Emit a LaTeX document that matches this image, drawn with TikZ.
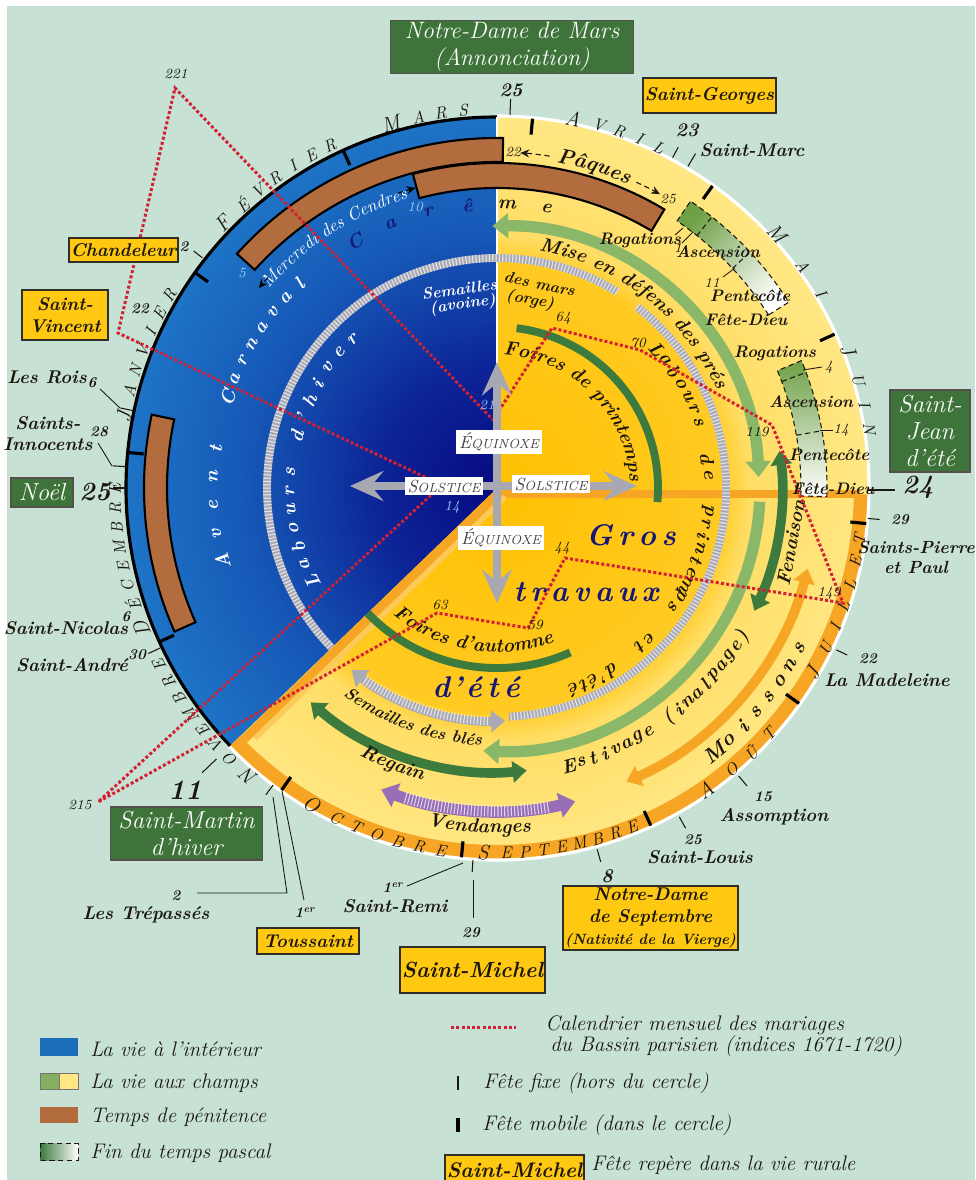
\documentclass[tikz,border=0pt]{standalone}
\usepackage{fontspec}
\usetikzlibrary{arrows.meta,decorations.text,calc}

\definecolor{bg}{RGB}{199,226,212}
\definecolor{boxgreen}{RGB}{62,116,58}
\definecolor{boxyellow}{RGB}{255,201,18}
\definecolor{bandbrown}{RGB}{178,108,62}
\definecolor{dgreen}{RGB}{60,122,62}
\definecolor{lgreen}{RGB}{138,184,104}
\definecolor{pgreen}{RGB}{110,160,70}
\definecolor{orng}{RGB}{246,166,36}
\definecolor{purp}{RGB}{152,110,182}
\definecolor{grayarc}{RGB}{170,170,182}
\definecolor{grayarrow}{RGB}{168,168,178}
\definecolor{navy}{RGB}{22,22,120}
\definecolor{redm}{RGB}{212,32,52}
\definecolor{ink}{RGB}{28,22,16}
\definecolor{lblue}{RGB}{150,205,245}
\definecolor{blue0}{RGB}{8,10,130}
\definecolor{blue1}{RGB}{12,36,150}
\definecolor{blue2}{RGB}{22,88,182}
\definecolor{blue3}{RGB}{30,116,198}
\definecolor{gold0}{RGB}{255,192,0}
\definecolor{gold1}{RGB}{255,202,34}
\definecolor{pale1}{RGB}{255,222,102}
\definecolor{pale2}{RGB}{255,231,132}
\definecolor{legblue}{RGB}{26,110,184}

% the path's bounding box maps onto [-25bp,25bp]
\pgfdeclareradialshading{ydisk}{\pgfpoint{0bp}{0bp}}{color(0bp)=(gold0); color(15bp)=(gold1); color(17bp)=(pale1); color(25bp)=(pale2); color(50bp)=(pale2)}
\pgfdeclareradialshading{bdisk}{\pgfpoint{0bp}{0bp}}{color(0bp)=(blue0); color(8bp)=(blue1); color(17bp)=(blue2); color(25bp)=(blue3); color(50bp)=(blue3)}

\newcommand\fLab{\fontsize{10.5}{12}\selectfont\bfseries\itshape}
\newcommand\fSm{\fontsize{8.5}{10}\selectfont\bfseries\itshape}
\newcommand\fVal{\fontsize{8}{9}\selectfont\itshape}
\newcommand\fArc{\fontsize{11}{13}\selectfont\bfseries\itshape}
\newcommand\fArcS{\fontsize{9.5}{11}\selectfont\bfseries\itshape}
\newcommand\fSem{\fontsize{9}{10}\selectfont\bfseries\itshape}
\newcommand\fMerc{\fontsize{10}{12}\selectfont\itshape}
\newcommand\fPaq{\fontsize{12}{14}\selectfont\bfseries\itshape}
\newcommand\fMoi{\fontsize{12}{14}\selectfont\bfseries\itshape}
\newcommand\fMid{\fontsize{11}{12}\selectfont\bfseries\itshape}
\newcommand\fBig{\fontsize{15}{17}\selectfont\bfseries\itshape}
\newcommand\fGros{\fontsize{17}{19}\selectfont\bfseries\itshape}
\newcommand\fMonB{\fontsize{12}{13}\selectfont\itshape}
\newcommand\fMonS{\fontsize{9.5}{11}\selectfont\itshape}
\newcommand\fLeg{\fontsize{12}{14}\selectfont\itshape}
\newcommand\fSun{\fontsize{10}{11}\selectfont\itshape}
\newcommand\fSunS{\fontsize{7.5}{9}\selectfont\itshape}

\newcommand\arcword[6]{\foreach \lettr [count=\kk from 0] in {#6}{\pgfmathsetmacro\angA{#2+\kk*(#3)}\node[#5,rotate=\angA+(#4)] at (\angA:#1) {\lettr};}}
\newcommand\monthname[6]{\arcword{#1}{#2}{#3}{#4}{mon,font=\fMonB}{#5}\pgfmathsetmacro\angB{#2+1.25*(#3)}\arcword{#1}{\angB}{#3}{#4}{mon,font=\fMonS}{#6}}
\newcommand\ringsector[5]{\path[#5] (#1:#3) arc[start angle=#1,end angle=#2,radius=#3] -- (#2:#4) arc[start angle=#2,end angle=#1,radius=#4] -- cycle;}
\newcommand\hatcharc[8]{\draw[#4,line width=#5,#6] (#1:#3) arc[start angle=#1,end angle=#2,radius=#3];
 \draw[white,line width=#5,dash pattern=on 0.6pt off 1.3pt,opacity=0.7] (#7:#3) arc[start angle=#7,end angle=#8,radius=#3];}
\newcommand\arctext[6]{\path[decorate,decoration={text along path,text align=center,text color=#5,text={|#6|#4}}] (#1:#3) arc[start angle=#1,end angle=#2,radius=#3];}

\begin{document}
\begin{tikzpicture}[x=0.02cm,y=0.02cm,
 lab/.style={font=\fLab,text=ink,inner sep=0.5pt},
 sm/.style={font=\fSm,text=ink,inner sep=0.5pt},
 val/.style={font=\fVal,text=ink,inner sep=0.5pt},
 mon/.style={text=ink,inner sep=0pt},
 pent/.style={font=\fArcS,text=ink,inner sep=0.5pt},
 ybx/.style={draw=ink!90,line width=0.9pt,fill=boxyellow,text=ink,font=\fontsize{10.5}{12.5}\selectfont\bfseries\itshape,inner sep=1pt,align=center},
 gbx/.style={draw=ink!75,line width=0.9pt,fill=boxgreen,text=white,font=\fontsize{14}{15.5}\selectfont\itshape,inner sep=1pt,align=center},
 tickf/.style={ink,line width=0.6pt},
 tickm/.style={black,line width=1.8pt},
 lead/.style={ink,line width=0.5pt},
 mar/.style={redm,line width=1.7pt,dash pattern=on 1.7pt off 1.3pt},
 sunbox/.style={fill=white,inner sep=1.5pt,text=black!75},
 leg/.style={font=\fLeg,text=ink,inner sep=0pt,anchor=west},
 dblG/.style={>={Triangle[width=12pt,length=8pt]},<->},
 dblP/.style={>={Triangle[width=14pt,length=9pt]},<->},
 dblL/.style={>={Triangle[width=14pt,length=9pt]},<->},
 endL/.style={>={Triangle[width=14pt,length=9pt]},->},
 dblD/.style={>={Triangle[width=12pt,length=8pt]},<->},
 gA/.style={-{Stealth[length=19pt,width=17pt,inset=7pt]}},
 dashA/.style={densely dashed,line width=0.6pt,-{Stealth[length=5pt,width=4.5pt]}},
]
\useasboundingbox (0,0) rectangle (975,-1180);
\fill[white] (0,0) rectangle (975,-1180);
\fill[bg] (7,-6) rectangle (975,-1180);
\coordinate (C) at (497,-488);

\begin{scope}[shift={(497,-488)}]
 % discs
 \shade[shading=ydisk] (0,0) circle (372);
 \begin{scope}
  \clip (0,0) -- (90:376) arc[start angle=90,end angle=224,radius=376] -- cycle;
  \shade[shading=bdisk] (0,0) circle (372);
 \end{scope}
 % summer sector border
 \draw[orng,line width=8pt] (-136:364) arc[start angle=-136,end angle=-1,radius=364];
 \draw[orng,line width=4.5pt] (0,-6) -- (363,-6);
 \draw[orng,line width=5pt] ($(-46:5)$) -- ($(-46:5)+(-136:362)$);
 \draw[orng!45!pale2,line width=3pt] ($(-46:12)$) -- ($(-46:12)+(-136:348)$);
 % outlines
 \draw[white,line width=1.8pt] (-136:372) arc[start angle=-136,end angle=90,radius=372];
 \draw[black,line width=1.8pt] (90:371) arc[start angle=90,end angle=224,radius=371];
 \draw[white,line width=1pt] (0,0) -- (90:371);
 % penance bands
 \ringsector{89}{138}{326}{350}{fill=bandbrown,draw=black,line width=1.2pt}
 \ringsector{59}{105}{300}{325}{fill=bandbrown,draw=black,line width=1.2pt}
 \ringsector{168}{204}{330}{353}{fill=bandbrown,draw=black,line width=1.2pt}
 % fin du temps pascal
 \ringsector{32.5}{56}{322}{346}{top color=pgreen,bottom color=white,shading angle=45}
 \ringsector{32.5}{56}{322}{346}{draw=ink,densely dashed,line width=0.6pt}
 \draw[ink,densely dashed,line width=0.6pt] (51.6:322) -- (51.6:346) (43:322) -- (43:346);
 \ringsector{-1.5}{22.7}{304}{330}{top color=pgreen,bottom color=white}
 \ringsector{-1.5}{22.7}{304}{330}{draw=ink,densely dashed,line width=0.6pt}
 \draw[ink,densely dashed,line width=0.6pt] (20.5:304) -- (20.5:330) (10:304) -- (10:330);
 % activity arcs
 \hatcharc{58.5}{224}{230}{grayarc}{4.5pt}{}{58.5}{224}
 \hatcharc{52.3}{-87}{229}{grayarc}{4.5pt}{}{52.3}{-87}
 \hatcharc{-128.6}{-88}{233}{grayarc}{5pt}{dblG}{-124.5}{-92}
 \hatcharc{-111}{-76}{323}{purp}{6.5pt}{dblP}{-106.5}{-80.5}
 \draw[lgreen,line width=6.5pt,dblL] (2.4:262) arc[start angle=2.4,end angle=91,radius=262];
 \draw[lgreen,line width=6.5pt,endL] (-3:263) arc[start angle=-3,end angle=-93,radius=263];
 \draw[dgreen,line width=4.5pt] (83:161) arc[start angle=83,end angle=-5,radius=161];
 \draw[dgreen,line width=4.5pt] (-136:180) arc[start angle=-136,end angle=-66,radius=180];
 \draw[dgreen,line width=5.5pt,dblD] (-131:284) arc[start angle=-131,end angle=-84,radius=284];
 \draw[dgreen,line width=5.5pt,dblD] (7.5:285) arc[start angle=7.5,end angle=-25.5,radius=285];
 \draw[orng,line width=5.5pt,dblD] (-14.6:321) arc[start angle=-14.6,end angle=-66.2,radius=321];
 % month ticks
 \foreach \angC in {84.5,54.5,24.5,-5.5,-35.5,-65.5,-95.5,-125.5,-155.5,174.5,144.5,114.5}
   \draw[tickm] (\angC:355) -- (\angC:371);
 \foreach \angC/\ra/\rb in {88/373/389,62/374/386,59.3/374/389,-4.7/372/384,-25.5/376/388,-50/376/389,-61/376/389,-74.5/375/388,-93.7/373/385,-127/372/384,205.4/372/386,180/371/384,176.7/371/385,168/372/385,142/374/385}
   \draw[tickf] (\angC:\ra) -- (\angC:\rb);
 \draw[tickf] (-136:390) -- (-136:410);
 % texts along arcs
 \arctext{84}{20}{241}{Mise en défens des prés}{ink}{\fArc}
 \arctext{97}{-7}{133}{Foires de printemps}{ink}{\fArc}
 \arctext{-142}{-57}{164}{Foires d'automne}{ink}{\fArc}
 \arctext{-132}{-88}{258}{Semailles des blés}{ink}{\fArcS}
 \arctext{-124}{-97.6}{301}{Regain}{ink}{\fArc}
 \arctext{-105}{-81}{345}{Vendanges}{ink}{\fArc}
 \arctext{142}{104}{303}{Mercredi des Cendres}{white}{\fMerc}
 \arctext{82}{64.4}{331}{Pâques}{ink}{\fPaq}
 \draw[ink,dashA] (81:336) arc[start angle=81,end angle=86,radius=336];
 \draw[ink,dashA] (65.5:336) arc[start angle=65.5,end angle=61,radius=336];
 \draw[black,dashA] (137.4:311) arc[start angle=137.4,end angle=140,radius=311];
 \draw[black,dashA] (108.6:311) arc[start angle=108.6,end angle=105.2,radius=311];
 % spaced words
 \arcword{207}{207}{-5.2}{-90}{mon,text=white,font=\fArc}{L,a,b,o,u,r,s,{},d,',h,i,v,e,r}
 \arcword{284}{195}{-5.75}{-90}{mon,text=white,font=\fArc}{A,v,e,n,t}
 \arcword{284}{161.4}{-3.9}{-90}{mon,text=white,font=\fArc}{C,a,r,n,a,v,a,l}
 \arcword{284}{120}{-8}{-90}{mon,text=navy,font=\fArc}{C,a,r,ê}
 \arcword{284}{88}{-8}{-90}{mon,text=ink,font=\fArc}{m,e}
 \arcword{212}{41}{-3.8}{-90}{mon,font=\fArc}{L,a,b,o,u,r,s}
 \arcword{212}{8.2}{-4.6}{-90}{mon,font=\fArc}{d,e}
 \arcword{212}{-6}{-3.45}{-90}{mon,font=\fArc}{p,r,i,n,t,e,m,p,s}
 \arcword{214}{-44.5}{-3.5}{-90}{mon,font=\fArc}{e,t}
 \arcword{216}{-57.5}{-2.85}{-90}{mon,font=\fArc}{d,',é,t,é}
 \arcword{287}{-75.5}{2.47}{90}{mon,font=\fArc}{E,s,t,i,v,a,g,e,{},{(},i,n,a,l,p,a,g,e,{)}}
 \arcword{343}{-50.6}{3.23}{90}{mon,font=\fMoi}{M,o,i,s,s,o,n,s}
 \node[font=\fArc,text=ink,rotate=79.5,inner sep=0pt] (fenaison) at (-10.5:299) {Fenaison};
 % months
 \monthname{381}{229.4}{-3}{-90}{N}{O,V,E,M,B,R,E}
 \monthname{382}{201.6}{-2.97}{-90}{D}{É,C,E,M,B,R,E}
 \monthname{380}{169.2}{-3.15}{-90}{J}{A,N,V,I,E,R}
 \monthname{381}{136}{-3.2}{-90}{F}{É,V,R,I,E,R}
 \monthname{379}{106.3}{-3.43}{-90}{M}{A,R,S}
 \monthname{377}{78.4}{-3.25}{-90}{A}{V,R,I,L}
 \monthname{378}{42.3}{-5}{-90}{M}{A,I}
 \monthname{377}{21.5}{-3.83}{-90}{J}{U,I,N}
 \monthname{366}{-30.5}{3.58}{90}{J}{U,I,L,L,E,T}
 \monthname{367}{-55.4}{4.07}{90}{A}{O,Û,T}
 \monthname{365}{-92.2}{2.9}{90}{S}{E,P,T,E,M,B,R,E}
 \monthname{367}{-120.4}{3.45}{90}{O}{C,T,O,B,R,E}
\end{scope}

% marriage calendar
\coordinate (vMar) at (493,-420);
\coordinate (vApr) at (552,-328);
\coordinate (vMay) at (640,-350);
\coordinate (vJun) at (772,-425);
\coordinate (vJul) at (843,-603);
\coordinate (vAug) at (565,-558);
\coordinate (vSep) at (528,-628);
\coordinate (vOct) at (437,-613);
\coordinate (vNov) at (98,-802);
\coordinate (vDec) at (442,-485);
\coordinate (vJan) at (118,-333);
\coordinate (vFeb) at (175,-88);
\draw[mar] (vMar) -- (vApr) -- (vMay) -- (vJun) -- (vJul) -- (vAug) -- (vSep) -- (vOct) -- (vNov) -- (vDec) -- (vJan) -- (vFeb) -- cycle;
\node[val] (i221) at (176,-74) {221};
\node[val,text=lblue] (i21) at (487,-405) {21};
\node[val,text=lblue] (i14) at (452,-507) {14};
\node[val] (i64) at (563,-318) {64};
\node[val] (i70) at (638,-343) {70};
\node[val] (i119) at (757,-432) {119};
\node[val] (i149) at (829,-593) {149};
\node[val] (i44) at (562,-548) {44};
\node[val] (i59) at (535,-625) {59};
\node[val] (i63) at (440,-605) {63};
\node[val] (i215) at (80,-805) {215};

% seasons cross
\begin{scope}[shift={(497,-488)}]
 \draw[grayarrow,line width=5pt,gA] (0,0) -- (0,126);
 \draw[grayarrow,line width=5pt,gA] (0,0) -- (0,-115);
 \draw[grayarrow,line width=5pt,gA] (0,2) -- (-147,2);
 \draw[grayarrow,line width=5pt,gA] (0,2) -- (140,2);
\end{scope}
\node[sunbox] (eq1) at (499,-442) {\fSun É\fSunS QUINOXE};
\node[sunbox] (eq2) at (501,-538) {\fSun É\fSunS QUINOXE};
\node[sunbox] (so1) at (444,-486) {\fSun S\fSunS OLSTICE};
\node[sunbox] (so2) at (551,-484) {\fSun S\fSunS OLSTICE};

% big words
\node[font=\fGros,text=navy] (gros) at (631,-535) {G\kern3pt r\kern3pt o\kern3pt s};
\node[font=\fGros,text=navy] (travaux) at (586,-592) {t\kern3pt r\kern3pt a\kern3pt v\kern3pt a\kern3pt u\kern3pt x};
\node[font=\fGros,text=navy] (dete) at (476,-687) {d\kern1pt'\kern2pt é\kern3pt t\kern3pt é};

\node[font=\fSem,text=white,rotate=8,anchor=east,inner sep=0pt] (semav) at (497,-284) {Semailles};
\node[font=\fSem,text=white,rotate=8,anchor=east,inner sep=0pt] (semav2) at (496,-300) {(avoine)};
\node[font=\fSem,text=ink,rotate=-12,anchor=west,inner sep=0pt] (desmars) at (504,-276) {des mars};
\node[font=\fSem,text=ink,rotate=-10,anchor=west,inner sep=0pt] (desmars2) at (506,-296) {(orge)};

% ring numbers
\node[val,text=lblue] (n5) at (242,-273) {5};
\node[val,text=lblue] (n10) at (415,-207) {10};
\node[val] (n22p) at (513,-152) {22};
\node[val] (n25p) at (668,-199) {25};

% pentecost labels
\node[pent] (rog1) at (640,-240) {Rogations};
\node[val] (d1) at (678,-248) {1};
\node[pent] (asc1) at (718,-252) {Ascension};
\node[val] (d11) at (712,-283) {11};
\node[pent] (pen1) at (750,-296) {Pentecôte};
\node[pent] (fd1) at (746,-320) {Fête-Dieu};
\node[pent] (rog2) at (775,-353) {Rogations};
\node[val] (d4) at (829,-367) {4};
\node[pent] (asc2) at (811,-402) {Ascension};
\node[val] (d14) at (841,-430) {14};
\node[pent] (pen2) at (829,-455) {Pentecôte};
\node[pent] (fd2) at (833,-489) {Fête-Dieu};
\draw[lead] (675,-235) -- (683,-228);
\draw[lead] (682,-243) -- (693,-232);
\draw[lead] (723,-277) -- (735,-268);
\draw[lead] (803,-370) -- (822,-367);
\draw[lead] (820,-430) -- (833,-430);

% top and right feasts
\node[gbx,font=\fontsize{13.5}{15.5}\selectfont\itshape,minimum width=244*0.5669pt,minimum height=52*0.5669pt] (ndmars) at (512,-47) {Notre-Dame de Mars\\(Annonciation)};
\node[font=\fMid,text=ink] (n25t) at (511,-90) {25};
\node[ybx,minimum width=125*0.5669pt,minimum height=35*0.5669pt] (stgeorges) at (709.5,-95.5) {Saint-Georges};
\node[font=\fMid,text=ink] (n23) at (687,-130) {23};
\node[lab] (stmarc) at (752,-150) {Saint-Marc};
\node[gbx,minimum width=80*0.5669pt,minimum height=82*0.5669pt] (stjean) at (930,-431) {Saint-\\Jean\\d'été};
\draw[lead,line width=0.7pt] (868,-490) -- (895,-490);
\node[font=\fBig,text=ink] (n24) at (918,-487) {24};
\node[sm] (n29a) at (900,-520) {29};
\node[lab,font=\fontsize{10}{11.5}\selectfont\bfseries\itshape,align=center] (stpierre) at (916,-557) {Saints-Pierre\\et Paul};
\node[sm] (n22m) at (868,-659) {22};
\node[lab] (madeleine) at (887,-680) {La Madeleine};
\node[sm] (n15) at (763,-797) {15};
\node[lab] (assomption) at (774,-817) {Assomption};
\node[sm] (n25l) at (693,-840) {25};
\node[lab] (stlouis) at (700,-857) {Saint-Louis};
\node[font=\fMid,text=ink] (n8) at (607,-876) {8};
\node[ybx,minimum width=165*0.5669pt,minimum height=64*0.5669pt] (ndsept) at (650.5,-918) {Notre-Dame\\de Septembre\\{\fontsize{8.5}{10}\selectfont(Nativité de la Vierge)}};
\draw[lead] (473,-880) -- (473,-918);
\node[sm] (n29m) at (471,-933) {29};
\node[ybx,font=\fontsize{12.5}{14}\selectfont\bfseries\itshape,minimum width=131*0.5669pt,minimum height=46*0.5669pt] (stmichel) at (472.5,-970) {Saint-Michel};
\draw[lead] (463,-863) -- (407,-886);
\node[sm] (n1r) at (393,-888) {1\textsuperscript{er}};
\node[lab] (stremi) at (395,-906) {Saint-Remi};
\draw[lead] (282,-791) -- (304,-900);
\node[sm] (n1t) at (305,-913) {1\textsuperscript{er}};
\node[ybx,minimum width=102*0.5669pt,minimum height=26*0.5669pt] (toussaint) at (308,-941) {Toussaint};
\draw[lead] (273,-797) -- (287,-893) -- (197,-893);
\node[sm] (n2t) at (176,-896) {2};
\node[lab] (trepasses) at (146,-915) {Les Trépassés};

% left feasts
\node[font=\fontsize{16}{18}\selectfont\bfseries\itshape,text=ink] (n11) at (185,-790) {11};
\node[gbx,minimum width=153*0.5669pt,minimum height=53*0.5669pt] (stmartin) at (186.5,-833.5) {Saint-Martin\\d'hiver};
\node[lab] (standre) at (72,-665) {Saint-André};
\node[sm] (n30) at (137,-655) {30};
\node[lab] (stnicolas) at (66,-628) {Saint-Nicolas};
\node[sm] (n6n) at (126,-617) {6};
\node[gbx,minimum width=62*0.5669pt,minimum height=29*0.5669pt] (noel) at (42,-492.5) {Noël};
\node[font=\fBig,text=ink] (n25n) at (95,-492) {25};
\node[lab,align=center] (innocents) at (48,-434) {Saints-\\Innocents};
\node[sm] (n28) at (99,-432) {28};
\draw[lead] (112,-466) -- (98,-443);
\node[lab] (rois) at (47,-377) {Les Rois};
\node[sm] (n6r) at (92,-383) {6};
\draw[lead] (120,-408) -- (100,-389);
\node[ybx,minimum width=86*0.5669pt,minimum height=50*0.5669pt] (stvincent) at (65,-315) {Saint-\\Vincent};
\node[sm] (n22v) at (140,-309) {22};
\node[ybx,minimum width=103*0.5669pt,minimum height=24*0.5669pt] (chandeleur) at (123.5,-250) {Chandeleur};
\node[sm] (n2c) at (184,-247) {2};

% legend
\fill[legblue] (40,-1038) rectangle (78,-1056);
\fill[pgreen!85] (40,-1073) rectangle (59,-1089);
\fill[pale2] (59,-1073) rectangle (78,-1089);
\draw[ink!60,line width=0.4pt] (40,-1073) rectangle (78,-1089) (59,-1073) -- (59,-1089);
\fill[bandbrown] (40,-1107) rectangle (78,-1123);
\shade[left color=dgreen,right color=white] (40,-1143) rectangle (78,-1160);
\draw[ink,densely dashed,line width=0.5pt] (40,-1143) rectangle (78,-1160);
\node[leg] (l1) at (90,-1049) {La vie à l'intérieur};
\node[leg] (l2) at (90,-1083) {La vie aux champs};
\node[leg] (l3) at (90,-1117) {Temps de pénitence};
\node[leg] (l4) at (90,-1153) {Fin du temps pascal};
\draw[mar] (451,-1027) -- (516,-1027);
\node[leg] (l5) at (545,-1025) {Calendrier mensuel des mariages};
\node[leg] (l6) at (550,-1046) {du Bassin parisien (indices 1671-1720)};
\draw[ink,line width=0.6pt] (458,-1076) -- (458,-1090);
\node[leg] (l7) at (483,-1083) {Fête fixe (hors du cercle)};
\draw[black,line width=2pt] (458,-1118) -- (458,-1132);
\node[leg] (l8) at (482,-1125) {Fête mobile (dans le cercle)};
\node[ybx,font=\fontsize{12}{14}\selectfont\bfseries\itshape,minimum width=131*0.5669pt,minimum height=30*0.5669pt] (legmichel) at (514.5,-1170) {Saint-Michel};
\node[leg] (l9) at (591,-1165) {Fête repère dans la vie rurale};
\end{tikzpicture}
\end{document}
